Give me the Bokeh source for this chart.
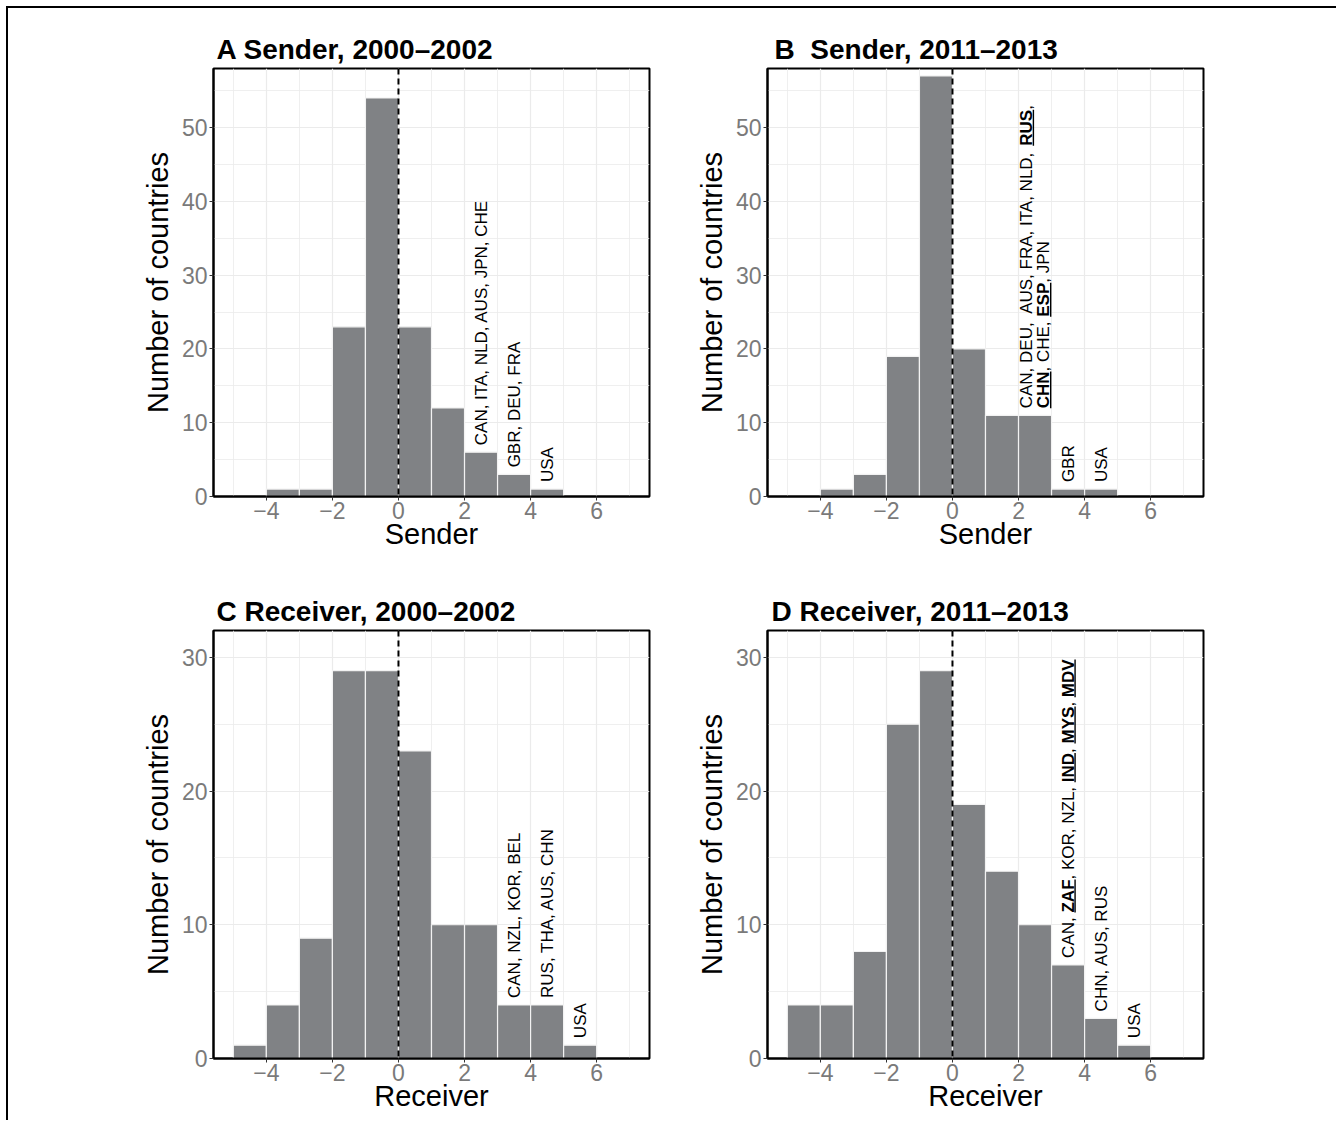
import math
from bokeh.plotting import figure
from bokeh.models import Span, FixedTicker, ColumnDataSource, Range1d
from bokeh.layouts import row, column
from bokeh.embed import file_html
from bokeh.resources import INLINE
from bokeh.core.properties import value

# ---------------- data ----------------
bin_left = [-5, -4, -3, -2, -1, 0, 1, 2, 3, 4, 5, 6]
counts_A = [0, 1, 1, 23, 54, 23, 12, 6, 3, 1, 0, 0]
counts_B = [0, 1, 3, 19, 57, 20, 11, 11, 1, 1, 0, 0]
counts_C = [1, 4, 9, 29, 29, 23, 10, 10, 4, 4, 1, 0]
counts_D = [4, 4, 8, 25, 29, 19, 14, 10, 7, 3, 1, 0]

titles = ["A Sender, 2000\u20132002", "B\u00a0 Sender, 2011\u20132013",
          "C Receiver, 2000\u20132002", "D Receiver, 2011\u20132013"]
xlabels = ["Sender", "Sender", "Receiver", "Receiver"]
ylabel = "Number of countries"

x_ticks = [-4, -2, 0, 2, 4, 6]
x_minor = [-5, -3, -1, 1, 3, 5, 7]
y_ticks_top = [0, 10, 20, 30, 40, 50]
y_minor_top = [5, 15, 25, 35, 45, 55]
y_ticks_bot = [0, 10, 20, 30]
y_minor_bot = [5, 15, 25]

# country labels: bin centre and text (** marks bold underlined, \n new line)
labels_A_x = [2.5, 3.5, 4.5]
labels_A = ["CAN, ITA, NLD, AUS, JPN, CHE", "GBR, DEU, FRA", "USA"]
labels_B_x = [2.5, 3.5, 4.5]
labels_B = ["CAN, DEU,\u00a0 AUS, FRA, ITA, NLD, **RUS**,\n**CHN**, CHE, **ESP**, JPN", "GBR", "USA"]
labels_C_x = [3.5, 4.5, 5.5]
labels_C = ["CAN, NZL, KOR, BEL", "RUS, THA, AUS, CHN", "USA"]
labels_D_x = [3.5, 4.5, 5.5]
labels_D = ["CAN, **ZAF**, KOR, NZL, **IND**, **MYS**, **MDV**", "CHN, AUS, RUS", "USA"]

# ---------------- style ----------------
FONT = "Liberation Sans"
BAR = "#808285"
GRID = "#ebebeb"
LAB_PX = 17.0

# Arial/Liberation Sans advance widths (1/1000 em)
W_REG = dict(A=667, B=667, C=722, D=722, E=667, F=611, G=778, H=722, I=278, J=500, K=667,
             L=556, M=833, N=722, O=778, P=667, Q=778, R=722, S=667, T=611, U=722, V=667,
             W=944, X=667, Y=667, Z=611)
W_BOLD = dict(A=722, B=722, C=722, D=722, E=667, F=611, G=778, H=722, I=278, J=556, K=722,
              L=611, M=833, N=722, O=778, P=667, Q=778, R=722, S=667, T=611, U=722, V=667,
              W=944, X=667, Y=667, Z=611)


def text_w(s, bold):
    tab = W_BOLD if bold else W_REG
    tot = 0
    for ch in s:
        if ch in (",", " ", "\u00a0"):
            tot += 278
        else:
            tot += tab.get(ch, 600)
    return tot / 1000.0 * LAB_PX


def draw_labels(p, xs, texts, counts, ymax):
    ppx = 436 / 13.2
    ppy = 428 / ymax
    for xc, txt in zip(xs, texts):
        h = counts[bin_left.index(int(math.floor(xc)))]
        base = h + 7.0 / ppy
        lines = txt.split("\n")
        n = len(lines)
        for i, line in enumerate(lines):
            xl = xc + (i - (n - 1) / 2.0) * 17.3 / ppx
            segs = line.split("**")
            cur = 0.0
            for k, seg in enumerate(segs):
                if not seg:
                    continue
                bold = (k % 2 == 1)
                y0 = base + cur / ppy
                p.text(x=[xl], y=[y0], text=[seg], angle=math.pi / 2,
                       text_align="left", text_baseline="middle",
                       text_font=value(FONT), text_font_size=f"{LAB_PX}px",
                       text_font_style="bold" if bold else "normal",
                       text_color="black")
                w = text_w(seg, bold)
                if bold:
                    ux = xl + 7.0 / ppx
                    p.segment(x0=[ux], y0=[y0], x1=[ux], y1=[y0 + w / ppy],
                              line_color="black", line_width=1.4)
                cur += w


def make_panel(counts, title, xlabel, ymax, yt, ym, lx, ltxt, w, h, bl, br, bt, bb, toff):
    p = figure(width=w, height=h, x_range=Range1d(-5.6, 7.6), y_range=Range1d(0, ymax),
               output_backend="svg", toolbar_location=None, title=title,
               min_border_left=bl, min_border_right=br, min_border_top=bt, min_border_bottom=bb)
    p.title.text_font = FONT
    p.title.text_font_size = "28px"
    p.title.text_font_style = "bold"
    p.title.text_color = "black"
    p.title.align = "left"
    p.title.offset = toff
    p.title.standoff = 8

    sel = [i for i, c in enumerate(counts) if c > 0]
    src = ColumnDataSource(dict(left=[bin_left[i] for i in sel],
                                right=[bin_left[i] + 1 for i in sel],
                                top=[counts[i] for i in sel]))
    p.quad(left="left", right="right", bottom=0, top="top", source=src,
           fill_color=BAR, line_color="#f2f2f2", line_width=1.2)

    p.add_layout(Span(location=0, dimension="height", line_color="black",
                      line_width=2, line_dash="6 4"))

    p.xaxis.ticker = FixedTicker(ticks=x_ticks, minor_ticks=x_minor)
    p.yaxis.ticker = FixedTicker(ticks=yt, minor_ticks=ym)
    p.xaxis.major_label_overrides = {-4: "\u22124", -2: "\u22122"}
    for g in (p.xgrid, p.ygrid):
        g.grid_line_color = GRID
        g.grid_line_width = 1.2
        g.minor_grid_line_color = GRID
        g.minor_grid_line_width = 0.8
    p.xaxis.axis_label = xlabel
    p.yaxis.axis_label = ylabel
    for ax in (p.xaxis, p.yaxis):
        ax.axis_line_color = "black"
        ax.axis_line_width = 2
        ax.minor_tick_line_color = None
        ax.major_tick_line_color = "#333333"
        ax.major_tick_in = 0
        ax.major_tick_out = 4
        ax.major_label_text_font = FONT
        ax.major_label_text_font_size = "23px"
        ax.major_label_text_color = "#7a7a7a"
        ax.axis_label_text_font = FONT
        ax.axis_label_text_font_size = "29px"
        ax.axis_label_text_font_style = "normal"
        ax.axis_label_text_color = "black"
    p.xaxis.major_label_standoff = 1
    p.xaxis.axis_label_standoff = -4
    p.yaxis.major_label_standoff = 2
    p.yaxis.axis_label_standoff = 5
    p.outline_line_color = "black"
    p.outline_line_width = 2
    p.outline_line_alpha = 1.0
    p.background_fill_color = "white"
    p.border_fill_color = "white"

    draw_labels(p, lx, ltxt, counts, ymax)
    return p


pA = make_panel(counts_A, titles[0], xlabels[0], 58, y_ticks_top, y_minor_top,
                labels_A_x, labels_A, 664, 556, 205, 23, 60, 68, 3)
pB = make_panel(counts_B, titles[1], xlabels[1], 58, y_ticks_top, y_minor_top,
                labels_B_x, labels_B, 664, 556, 95, 133, 60, 68, 7)
pC = make_panel(counts_C, titles[2], xlabels[2], 32, y_ticks_bot, y_minor_bot,
                labels_C_x, labels_C, 664, 556, 205, 23, 66, 62, 3)
pD = make_panel(counts_D, titles[3], xlabels[3], 32, y_ticks_bot, y_minor_bot,
                labels_D_x, labels_D, 664, 556, 95, 133, 66, 62, 4)

layout = column(row(pA, pB), row(pC, pD),
                styles={"border-top": "2px solid black", "border-left": "2px solid black",
                        "margin-top": "6px", "margin-left": "6px"})

open("out.html", "w").write(file_html(layout, INLINE))
